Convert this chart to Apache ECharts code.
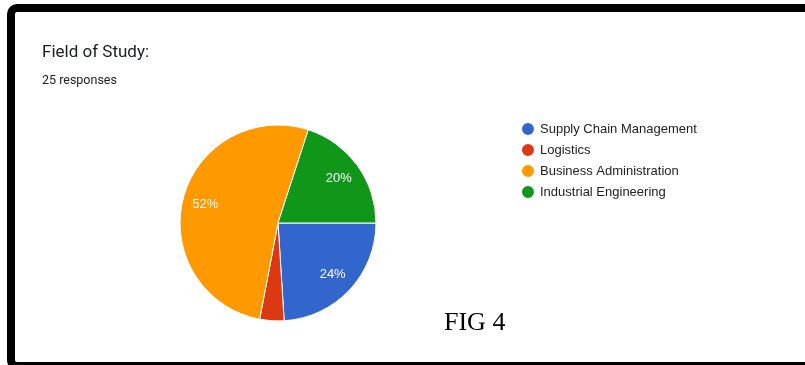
<!DOCTYPE html>
<html>
<head>
<meta charset="utf-8">
<style>
  html, body { margin: 0; padding: 0; background: #fff; }
  #chart { width: 805px; height: 365px; }
</style>
<script src="https://cdn.jsdelivr.net/npm/echarts@6/dist/echarts.min.js"></script>
</head>
<body>
<div id="chart"></div>
<script>
// Field of Study survey breakdown (25 responses)
const categories = ['Supply Chain Management', 'Logistics', 'Business Administration', 'Industrial Engineering'];
const responses = [6, 1, 13, 5];
const colors = ['#3366cc', '#dc3912', '#ff9900', '#109618'];

const chartTitle = 'Field of Study:';
const chartSubtitle = '25 responses';
const figureCaption = 'FIG 4';

const center = [278, 223];
const outerR = 98;

const total = responses.reduce((a, b) => a + b, 0);
const baseData = categories.map((name, i) => ({ name, value: responses[i] }));

// Transparent ring used only to place the percentage labels; tiny slices stay unlabeled
const labelData = baseData.map(d => ({
  name: d.name,
  value: d.value,
  itemStyle: { color: 'rgba(0,0,0,0)', borderWidth: 0 },
  label: { show: d.value / total >= 0.1 }
}));

const chart = echarts.init(document.getElementById('chart'), null, { renderer: 'canvas' });

chart.setOption({
  animation: false,
  color: colors,
  title: [
    {
      text: chartTitle,
      left: 42, top: 44, padding: 0,
      textStyle: { fontFamily: 'Roboto, sans-serif', fontSize: 17, fontWeight: 'normal', color: '#202124' }
    },
    {
      text: chartSubtitle,
      left: 42, top: 74, padding: 0,
      textStyle: { fontFamily: 'Roboto, sans-serif', fontSize: 12.5, fontWeight: 'normal', color: '#202124' }
    },
    {
      text: figureCaption,
      left: 444, top: 310, padding: 0,
      textStyle: { fontFamily: 'Liberation Serif, serif', fontSize: 26, fontWeight: 'normal', color: '#000' }
    }
  ],
  legend: {
    orient: 'vertical',
    left: 515, top: 116,
    icon: 'circle',
    itemWidth: 14, itemHeight: 14,
    itemGap: 5,
    data: categories,
    textStyle: { fontFamily: 'Liberation Sans, Arial, sans-serif', fontSize: 13, lineHeight: 13, color: '#222' }
  },
  graphic: [
    {
      type: 'rect',
      silent: true,
      shape: { x: 11, y: 8, width: 820, height: 358, r: 6 },
      style: { fill: 'none', stroke: '#000', lineWidth: 8 },
      z: 100
    }
  ],
  series: [
    {
      type: 'pie',
      center: center,
      radius: [0, outerR],
      startAngle: 0,
      clockwise: true,
      silent: true,
      label: { show: false },
      labelLine: { show: false },
      itemStyle: { borderColor: '#fff', borderWidth: 1 },
      data: baseData
    },
    {
      type: 'pie',
      center: center,
      radius: [46, outerR],
      startAngle: 0,
      clockwise: true,
      silent: true,
      label: {
        position: 'inside',
        color: '#ffffff',
        fontFamily: 'Liberation Sans, Arial, sans-serif',
        fontSize: 13,
        formatter: p => Math.round(p.value / total * 100) + '%'
      },
      labelLine: { show: false },
      data: labelData
    }
  ]
});
</script>
</body>
</html>
